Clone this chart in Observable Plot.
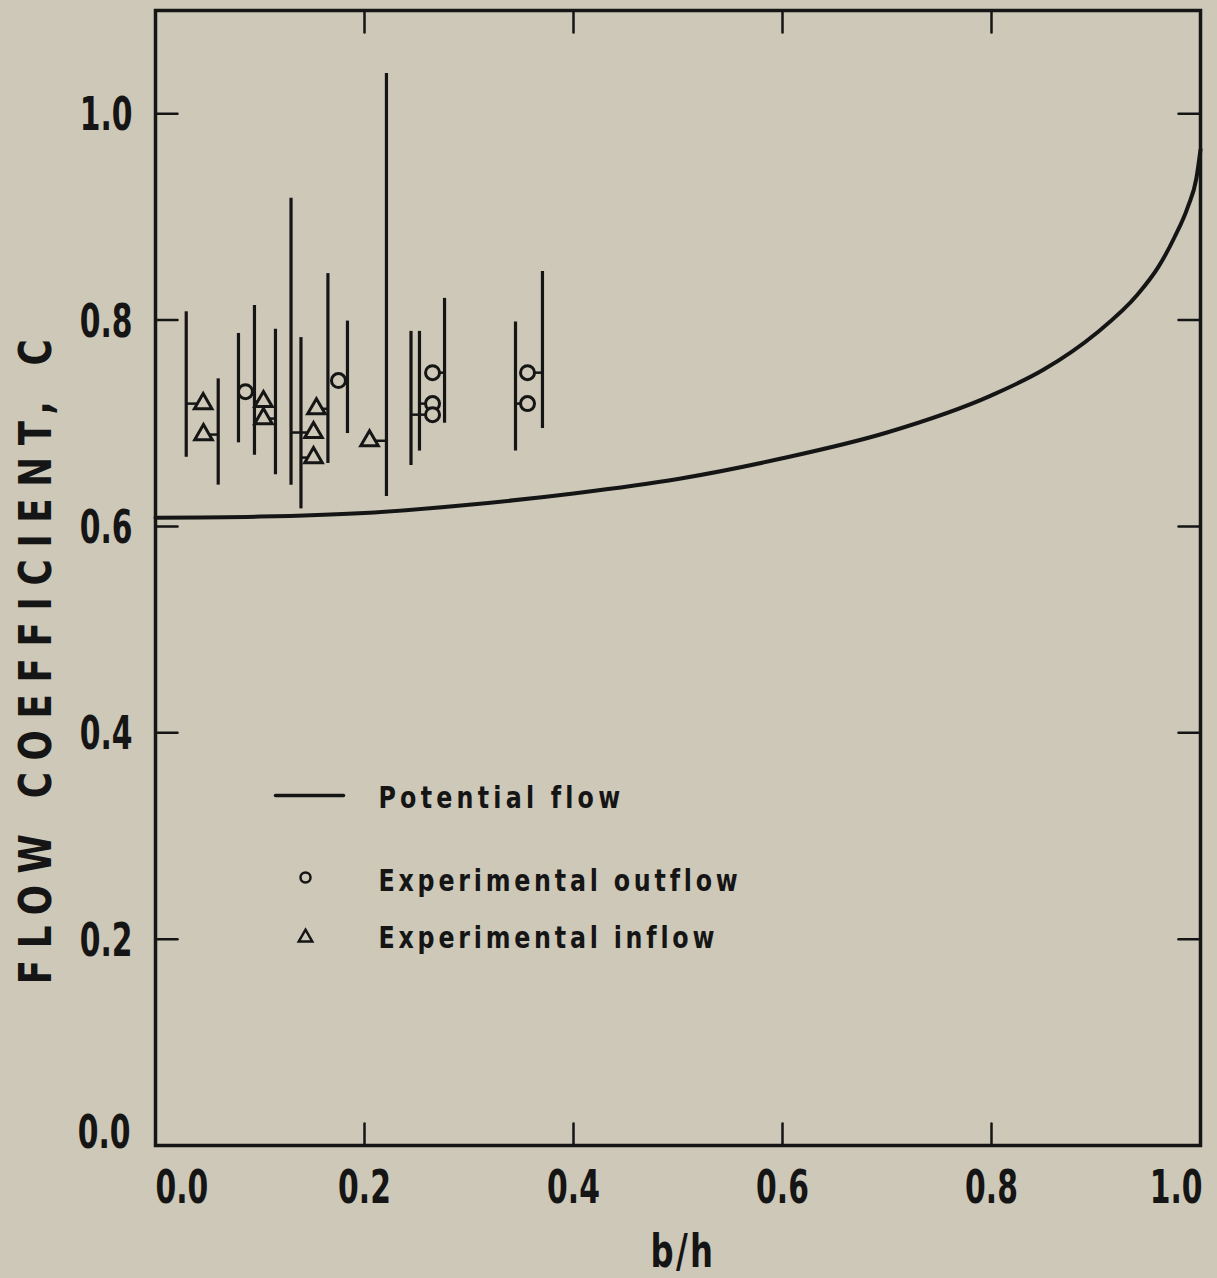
<!DOCTYPE html>
<html><head><meta charset="utf-8">
<script src="https://cdn.jsdelivr.net/npm/d3@7"></script>
<script src="https://cdn.jsdelivr.net/npm/@observablehq/plot@0.6"></script>
<style>
html,body{margin:0;padding:0;background:#cdc8b8;}
#chart svg{display:block;background:#cdc8b8;}
</style></head><body><div id="chart"></div>
<script>
// Potential flow curve (b/h, C)
const potentialX = [0, 0.1, 0.2, 0.3, 0.4, 0.5, 0.6, 0.7, 0.8, 0.85, 0.9, 0.94, 0.96, 0.975, 0.988, 0.996, 1.0];
const potentialC = [0.6085, 0.6095, 0.613, 0.621, 0.632, 0.646, 0.666, 0.691, 0.727, 0.752, 0.787, 0.825, 0.852, 0.88, 0.91, 0.937, 0.965];

// Range bars of the experiments (b/h, low C, high C)
const barX    = [0.0294, 0.0600, 0.0794, 0.0947, 0.1148, 0.1297, 0.1392, 0.1650, 0.1837, 0.2210, 0.2445, 0.2526, 0.2766, 0.3445, 0.3703];
const barLow  = [0.667, 0.640, 0.681, 0.669, 0.650, 0.640, 0.617, 0.661, 0.690, 0.629, 0.659, 0.673, 0.700, 0.673, 0.695];
const barHigh = [0.808, 0.743, 0.787, 0.814, 0.791, 0.918, 0.783, 0.845, 0.799, 1.039, 0.789, 0.789, 0.821, 0.798, 0.847];

// Experimental inflow (triangles)
const inflowX   = [0.0456, 0.0459, 0.1033, 0.1033, 0.1512, 0.1512, 0.1540, 0.2048];
const inflowC   = [0.719, 0.689, 0.721, 0.7045, 0.691, 0.6667, 0.714, 0.683];
const inflowBar = [0, 1, 3, 4, 5, 6, 7, 9];

// Experimental outflow (circles)
const outflowX   = [0.0861, 0.1751, 0.2651, 0.2651, 0.2651, 0.3560, 0.3560];
const outflowC   = [0.7306, 0.7413, 0.749, 0.719, 0.7083, 0.749, 0.719];
const outflowBar = [2, 8, 12, 11, 10, 14, 13];

const xTicks = [0, 0.2, 0.4, 0.6, 0.8, 1.0];
const yTicks = [0, 0.2, 0.4, 0.6, 0.8, 1.0];
const xTickLabels = ["0.0", "0.2", "0.4", "0.6", "0.8", "1.0"];
const yTickLabels = ["0.0", "0.2", "0.4", "0.6", "0.8", "1.0"];
const xTitle = "b/h";
const yTitle = "FLOW COEFFICIENT, C";
const legendLabels = ["Potential flow", "Experimental outflow", "Experimental inflow"];

const ink = "#151515";
const bg = "#cdc8b8";
const font = '"DejaVu Sans Condensed","DejaVu Sans","Liberation Sans",sans-serif';

const curve = potentialX.map((x, i) => ({x, c: potentialC[i]}));
const bars = barX.map((x, i) => ({x, lo: barLow[i], hi: barHigh[i]}));
const inflow = inflowX.map((x, i) => ({x, c: inflowC[i], bx: barX[inflowBar[i]]}));
const outflow = outflowX.map((x, i) => ({x, c: outflowC[i], bx: barX[outflowBar[i]]}));

const lineShape = {draw(context, l) { context.moveTo(0, 0); context.lineTo(0, -l); }};
const tickLen = 22;

// condensed look: squeeze glyphs horizontally, optional letter spacing
function squeeze(sx, spacing) {
  return function(index, scales, values, dimensions, context, next) {
    const g = next(index, scales, values, dimensions, context);
    if (spacing) g.setAttribute("letter-spacing", spacing);
    for (const t of g.querySelectorAll("text")) {
      const tr = t.getAttribute("transform") || "";
      t.setAttribute("transform", `${tr} scale(${sx},1)`);
    }
    return g;
  };
}
const txt = {fill: ink, fontWeight: "bold", fontFamily: font};

const plot = Plot.plot({
  width: 1217,
  height: 1278,
  marginLeft: 155,
  marginRight: 17,
  marginTop: 10,
  marginBottom: 133,
  style: {background: bg, fontFamily: font, fontWeight: "bold"},
  x: {domain: [0, 1], axis: null},
  y: {domain: [0, 1.1], axis: null},
  marks: [
    // inward ticks on all four sides
    Plot.vector(xTicks, {x: d => d, frameAnchor: "bottom", rotate: 0, length: tickLen, anchor: "start", shape: lineShape, stroke: ink, strokeWidth: 2.5}),
    Plot.vector(xTicks.slice(1, -1), {x: d => d, frameAnchor: "top", rotate: 180, length: tickLen, anchor: "start", shape: lineShape, stroke: ink, strokeWidth: 2.5}),
    Plot.vector(yTicks.slice(1), {y: d => d, frameAnchor: "left", rotate: 90, length: tickLen, anchor: "start", shape: lineShape, stroke: ink, strokeWidth: 2.5}),
    Plot.vector(yTicks.slice(1), {y: d => d, frameAnchor: "right", rotate: -90, length: tickLen, anchor: "start", shape: lineShape, stroke: ink, strokeWidth: 2.5}),
    // tick labels
    Plot.text(xTicks.slice(1, -1), {...txt, x: d => d, text: (d, i) => xTickLabels[i + 1], frameAnchor: "bottom", lineAnchor: "bottom", dy: 57, fontSize: 46, render: squeeze(0.72)}),
    Plot.text([xTicks[0]], {...txt, x: d => d, text: () => xTickLabels[0], frameAnchor: "bottom", lineAnchor: "bottom", textAnchor: "start", dy: 57, fontSize: 46, render: squeeze(0.72)}),
    Plot.text([xTicks[xTicks.length - 1]], {...txt, x: d => d, text: () => xTickLabels[xTickLabels.length - 1], frameAnchor: "bottom", lineAnchor: "bottom", textAnchor: "end", dx: 2, dy: 57, fontSize: 46, render: squeeze(0.72)}),
    Plot.text(yTicks.slice(1), {...txt, y: d => d, text: (d, i) => yTickLabels[i + 1], frameAnchor: "left", lineAnchor: "bottom", textAnchor: "end", dx: -23, dy: 16.5, fontSize: 46, render: squeeze(0.72)}),
    Plot.text([yTicks[0]], {...txt, y: d => d, text: () => yTickLabels[0], frameAnchor: "left", lineAnchor: "bottom", textAnchor: "end", dx: -25, dy: 2, fontSize: 46, render: squeeze(0.72)}),
    // axis titles
    Plot.text([xTitle], {...txt, frameAnchor: "bottom", lineAnchor: "bottom", dx: 5, dy: 121, fontSize: 46, render: squeeze(0.78, 3)}),
    Plot.text([yTitle], {...txt, frameAnchor: "left", rotate: -90, lineAnchor: "bottom", textAnchor: "middle", dx: -105, dy: 78, fontSize: 44, render: squeeze(0.9, 13)}),
    // potential flow curve
    Plot.line(curve, {x: "x", y: "c", curve: "monotone-x", stroke: ink, strokeWidth: 4}),
    // range bars
    Plot.ruleX(bars, {x: "x", y1: "lo", y2: "hi", stroke: ink, strokeWidth: 3.2}),
    // connectors from bars to markers
    Plot.link(inflow, {x1: "bx", x2: "x", y1: "c", y2: "c", stroke: ink, strokeWidth: 2.5}),
    Plot.link(outflow, {x1: "bx", x2: "x", y1: "c", y2: "c", stroke: ink, strokeWidth: 2.5}),
    // markers
    Plot.dot(inflow, {x: "x", y: "c", symbol: "triangle", r: 6.5, fill: bg, stroke: ink, strokeWidth: 3}),
    Plot.dot(outflow, {x: "x", y: "c", symbol: "circle", r: 7, fill: bg, stroke: ink, strokeWidth: 3}),
    // legend
    Plot.vector([legendLabels[0]], {frameAnchor: "top-left", dx: 120, dy: 785, rotate: 90, length: 68, anchor: "start", shape: lineShape, stroke: ink, strokeWidth: 3.5}),
    Plot.dot([legendLabels[1]], {frameAnchor: "top-left", dx: 150, dy: 867, symbol: "circle", r: 5, fill: "none", stroke: ink, strokeWidth: 2.5}),
    Plot.dot([legendLabels[2]], {frameAnchor: "top-left", dx: 150, dy: 927, symbol: "triangle", r: 5, fill: "none", stroke: ink, strokeWidth: 2.5}),
    Plot.text([legendLabels[0]], {...txt, text: d => d, frameAnchor: "top-left", textAnchor: "start", lineAnchor: "bottom", dx: 223, dy: 797, fontSize: 30, render: squeeze(0.88, 4.8)}),
    Plot.text([legendLabels[1]], {...txt, text: d => d, frameAnchor: "top-left", textAnchor: "start", lineAnchor: "bottom", dx: 223, dy: 880, fontSize: 30, render: squeeze(0.88, 4.3)}),
    Plot.text([legendLabels[2]], {...txt, text: d => d, frameAnchor: "top-left", textAnchor: "start", lineAnchor: "bottom", dx: 223, dy: 937, fontSize: 30, render: squeeze(0.88, 4.3)}),
    Plot.frame({stroke: ink, strokeWidth: 3.5})
  ]
});
document.getElementById("chart").appendChild(plot);
</script>
</body></html>
